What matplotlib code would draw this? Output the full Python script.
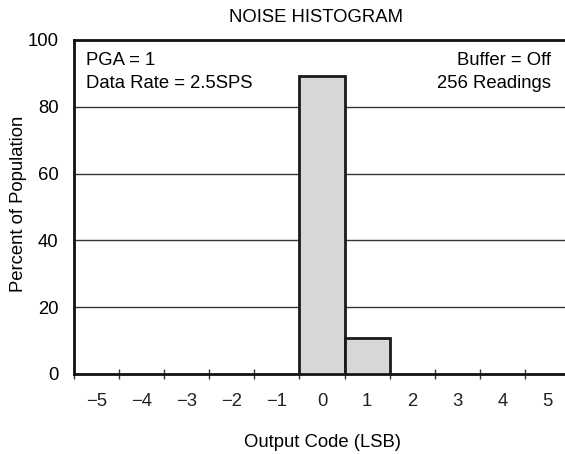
import matplotlib
matplotlib.use("Agg")
import matplotlib.pyplot as plt

# histogram data
codes = [0, 1]
percent = [89.1, 10.9]
tick_labels = ["\u22125", "\u22124", "\u22123", "\u22122", "\u22121", "0", "1", "2", "3", "4", "5"]
tick_values = list(range(-5, 6))
y_ticks = [0, 20, 40, 60, 80, 100]

plt.rcParams['font.family'] = ['Liberation Sans', 'DejaVu Sans']
plt.rcParams['font.size'] = 13.3

fig = plt.figure(figsize=(5.65, 4.54), dpi=100)
W, H = 565, 454
left, right, top, bottom = 74, 570, 40, 374
ax = fig.add_axes([left / W, 1 - bottom / H, (right - left) / W, (bottom - top) / H])

ax.bar(codes, percent, width=1.0, color='#d7d7d7', edgecolor='#1a1a1a', linewidth=2, zorder=3)

ax.set_xlim(-5.5, 5.5)
ax.set_ylim(0, 100)

# horizontal grid lines at 20..80
for y in y_ticks[1:-1]:
    ax.axhline(y, color='#333333', linewidth=1.0, zorder=1)

ax.spines['right'].set_visible(False)
for s in ['left', 'top', 'bottom']:
    ax.spines[s].set_linewidth(2)
    ax.spines[s].set_color('#111111')

ax.set_yticks(y_ticks)
ax.tick_params(axis='y', length=0, pad=11, labelsize=13.3)

# tick marks at bin edges, labels at bin centres
ax.set_xticks([v - 0.5 for v in tick_values])
ax.set_xticklabels([])
ax.tick_params(axis='x', which='major', direction='inout', length=7, width=1, color='#333333')
ax.set_xticks(tick_values, minor=True)
ax.set_xticklabels(tick_labels, minor=True)
ax.tick_params(axis='x', which='minor', length=0, pad=14, labelsize=13.3, labelcolor='#222222')

ax.set_xlabel('Output Code (LSB)', labelpad=17)
ax.set_ylabel('Percent of Population', fontsize=13.3)
ax.yaxis.set_label_coords(-0.094, 0.51)
fig.text(0.5 * (left + right) / W - 0.01, 1 - 18 / H, 'NOISE HISTOGRAM', ha='center', va='center', fontsize=13.3)

ax.text(0.025, 0.94, 'PGA = 1', transform=ax.transAxes, ha='left', va='center')
ax.text(0.025, 0.87, 'Data Rate = 2.5SPS', transform=ax.transAxes, ha='left', va='center')
ax.text(0.962, 0.94, 'Buffer = Off', transform=ax.transAxes, ha='right', va='center')
ax.text(0.962, 0.87, '256 Readings', transform=ax.transAxes, ha='right', va='center')

fig.savefig('out.png', dpi=100)
